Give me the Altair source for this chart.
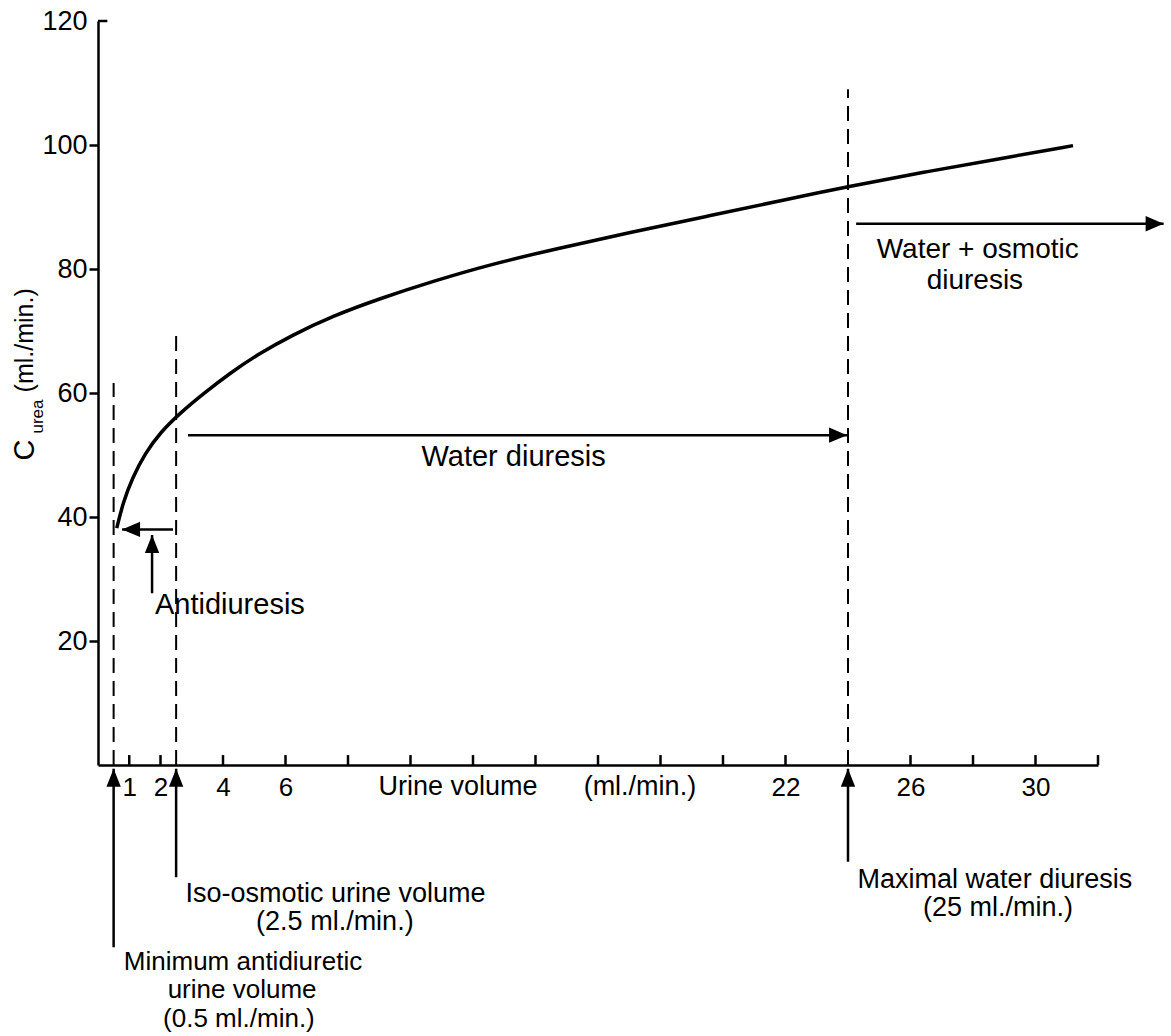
import altair as alt
import pandas as pd

FONT = "Liberation Sans"

# ---- curve: C_urea vs urine volume ----
curve_x = [0.6, 0.8, 1.1, 1.5, 2.0, 2.68, 3.4, 4.2, 5.1, 6.2, 7.5, 9.0, 10.7, 12.6, 14.7, 17.0, 19.5, 22.0, 24.0, 26.5, 29.0, 31.2]
curve_y = [38.2, 42.3, 46.3, 50.2, 53.7, 57.0, 60.0, 63.1, 66.2, 69.3, 72.4, 75.2, 78.0, 80.8, 83.3, 85.9, 88.5, 91.2, 93.3, 95.7, 97.9, 99.9]

# ---- axes ----
x_label_values = [1, 2, 4, 6, 22, 26, 30]
x_tick_values = [1, 2, 4, 6, 8, 10, 12, 14, 16, 18, 20, 22, 26, 28, 30, 32]
y_tick_values = [20, 40, 60, 80, 100, 120]

# ---- dashed reference lines ----
dash_x = [0.5, 2.5, 24]
dash_top = [61.6, 70.2, 109]

# ---- arrows (shaft start -> tip) ----
arrow_x = [2.4, 2.88, 24.26, 1.73, 0.5, 2.5, 24]
arrow_y = [38.0, 53.2, 87.3, 27.7, -29.4, -18.1, -15.6]
arrow_x2 = [0.77, 23.97, 34.1, 1.73, 0.5, 2.5, 24]
arrow_y2 = [38.0, 53.2, 87.3, 37.1, -0.6, -0.6, -0.6]
arrow_dir = ["left", "right", "right", "up", "up", "up", "up"]

# ---- annotation texts ----
ann_text = ["Antidiuresis", "Water diuresis", "Water + osmotic", "diuresis",
            "Urine volume", "(ml./min.)",
            "Iso-osmotic urine volume", "(2.5 ml./min.)",
            "Maximal water diuresis", "(25 ml./min.)",
            "Minimum antidiuretic", "urine volume", "(0.5 ml./min.)"]
ann_x = [4.22, 13.3, 28.15, 28.06, 11.52, 17.34, 7.6, 7.58, 28.7, 28.8, 4.64, 4.61, 4.51]
ann_y = [25.8, 49.7, 83.0, 78.0, -3.6, -3.6, -20.8, -25.3, -18.5, -23.1, -31.7, -36.3, -40.9]
ann_size = [29, 29, 28, 28, 27, 27, 27, 27, 27, 27, 26, 26, 26]

# ---- y-axis title pieces (rotated) ----
ytitle_text = ["C", "urea", "(ml./min.)"]
ytitle_x = [-2.34, -1.92, -2.34]
ytitle_y = [50.8, 56.2, 68.5]
ytitle_size = [29, 17, 25]

xs = alt.Scale(domain=[0, 32], nice=False, zero=False)
ys = alt.Scale(domain=[0, 120], nice=False, zero=False)

x_axis = alt.Axis(values=x_label_values, ticks=False, labelFontSize=26, labelFont=FONT,
                  labelColor="black", labelPadding=9, domainColor="black", domainWidth=2.5,
                  grid=False, title=None, labelFlush=False, labelOverlap=False)
y_axis = alt.Axis(values=y_tick_values, tickSize=9, tickWidth=2.5, tickColor="black",
                  tickOpacity={"expr": "datum.value == 120 ? 0 : 1"},
                  labelFontSize=27, labelFont=FONT, labelColor="black", labelPadding=2,
                  domainColor="black", domainWidth=2.5, grid=False, title=None,
                  labelFlush=False, labelOverlap=False)

curve_df = pd.DataFrame({"x": curve_x, "y": curve_y})
curve = alt.Chart(curve_df).mark_line(color="black", strokeWidth=3.5, interpolate="basis").encode(
    x=alt.X("x:Q", scale=xs, axis=x_axis),
    y=alt.Y("y:Q", scale=ys, axis=y_axis),
)

ticks_df = pd.DataFrame({"x": x_tick_values, "y0": [0] * len(x_tick_values), "y1": [1.6] * len(x_tick_values)})
xticks = alt.Chart(ticks_df).mark_rule(color="black", strokeWidth=2.5).encode(
    x=alt.X("x:Q", scale=xs), y=alt.Y("y0:Q", scale=ys), y2="y1:Q")

top_tick_df = pd.DataFrame({"x": [0], "x2": [0.3], "y": [120]})
top_tick = alt.Chart(top_tick_df).mark_rule(color="black", strokeWidth=2.5).encode(
    x=alt.X("x:Q", scale=xs), x2="x2:Q", y=alt.Y("y:Q", scale=ys))

dash_df = pd.DataFrame({"x": dash_x, "y0": [0] * 3, "y1": dash_top})
dashes = alt.Chart(dash_df).mark_rule(color="black", strokeWidth=2, strokeDash=[15, 8]).encode(
    x=alt.X("x:Q", scale=xs), y=alt.Y("y0:Q", scale=ys), y2="y1:Q")

arr_df = pd.DataFrame({"x": arrow_x, "y": arrow_y, "x2": arrow_x2, "y2": arrow_y2, "dir": arrow_dir})
shafts = alt.Chart(arr_df).mark_rule(color="black", strokeWidth=2.5).encode(
    x=alt.X("x:Q", scale=xs), y=alt.Y("y:Q", scale=ys), x2="x2:Q", y2="y2:Q")

head_shapes = {
    "left": "M0,0L2,-0.85L2,0.85Z",
    "right": "M0,0L-2,-0.85L-2,0.85Z",
    "up": "M0,0L-0.8,2L0.8,2Z",
}
heads = []
for d, path in head_shapes.items():
    heads.append(
        alt.Chart(arr_df).transform_filter(alt.datum.dir == d).mark_point(
            shape=path, size=324, filled=True, color="black", opacity=1, strokeWidth=0
        ).encode(x=alt.X("x2:Q", scale=xs), y=alt.Y("y2:Q", scale=ys))
    )

ann_df = pd.DataFrame({"t": ann_text, "x": ann_x, "y": ann_y, "s": ann_size})
ann = alt.Chart(ann_df).mark_text(font=FONT, color="black", align="center", baseline="middle").encode(
    x=alt.X("x:Q", scale=xs), y=alt.Y("y:Q", scale=ys), text="t:N", size=alt.Size("s:Q", scale=None))

yt_df = pd.DataFrame({"t": ytitle_text, "x": ytitle_x, "y": ytitle_y, "s": ytitle_size})
ytitle = alt.Chart(yt_df).mark_text(font=FONT, color="black", align="center", baseline="middle", angle=270).encode(
    x=alt.X("x:Q", scale=xs), y=alt.Y("y:Q", scale=ys), text="t:N", size=alt.Size("s:Q", scale=None))

chart = alt.layer(curve, xticks, top_tick, dashes, shafts, *heads, ann, ytitle).properties(
    width=1000, height=744,
    padding={"left": 98, "top": 21, "right": 73, "bottom": 271},
    autosize="none",
    background="white",
).configure_view(stroke=None)

chart.save("out.html", embed_options={"renderer": "svg", "actions": False})
